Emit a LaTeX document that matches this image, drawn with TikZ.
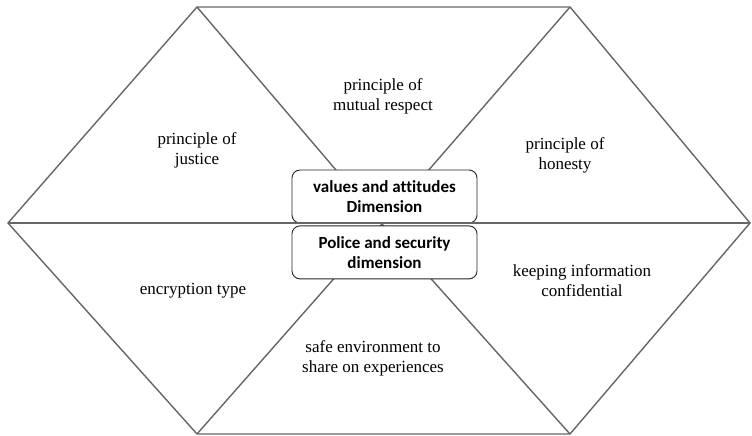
\documentclass[tikz,border=0pt]{standalone}
\usepackage{fontspec}
\setmainfont{Liberation Serif}
\newfontfamily\boxfont[Ligatures=NoCommon]{Carlito}
\usetikzlibrary{positioning}

\begin{document}
\begin{tikzpicture}[x=1pt, y=-1pt,
    edge/.style={draw=black!60, line width=1.4pt},
    dimbox/.style={draw=black!85, line width=0.9pt, rounded corners=8pt, fill=white,
                   minimum width=185pt, minimum height=53pt, align=center,
                   font=\boxfont\bfseries\fontsize{17}{20}\selectfont},
    label/.style={align=center, font=\fontsize{17}{20}\selectfont}]
            \useasboundingbox (0,0) rectangle (752,436);
            % hexagon corners
            \coordinate (tl) at (197,7);
            \coordinate (tr) at (570,7);
            \coordinate (rt) at (750,223);
            \coordinate (br) at (570,434);
            \coordinate (bl) at (197,434);
            \coordinate (lf) at (8,223);
            \coordinate (mid) at (382,224);
            % outline
            \draw[edge] (tl) -- (tr) -- (rt) -- (br) -- (bl) -- (lf) -- cycle;
            % inner lines
            \draw[edge] (tl) -- (mid) -- (tr);
            \draw[edge] (bl) -- (mid) -- (br);
            % dimensions
            \node[dimbox] (values) at (384.5,196.5) {values and attitudes\\Dimension};
            \node[dimbox, below=2pt of values] (police) {Police and security\\dimension};
            \draw[edge] (lf) -- (rt);
            % principles
            \node[label] (justice) at (197,150) {principle of\\justice};
            \node[label] (respect) at (383,96) {principle of\\mutual respect};
            \node[label] (honesty) at (565,155) {principle of\\honesty};
            \node[label] (encrypt) at (193,291) {encryption type};
            \node[label] (safe) at (373,358) {safe environment to\\share on experiences};
            \node[label] (confid) at (582,281) {keeping information\\confidential};
          \end{tikzpicture}
\end{document}
